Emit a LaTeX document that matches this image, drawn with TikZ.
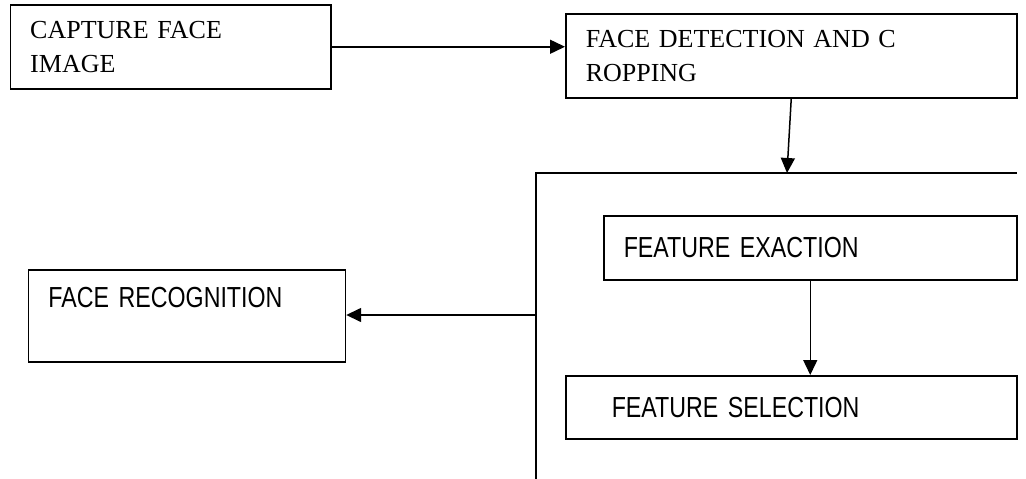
\documentclass[tikz,border=0pt]{standalone}
\usepackage{fontspec}
\setmainfont{Liberation Serif}
\newfontfamily\narrowsf[FakeStretch=0.8]{Liberation Sans}
\usetikzlibrary{arrows.meta}
\begin{document}
\begin{tikzpicture}[x=1pt,y=-1pt,
        blk/.style={rectangle,draw=black,line width=1.5pt,anchor=north west,
          inner xsep=20pt,inner ysep=0pt,align=left},
        serifbox/.style={blk,font=\fontsize{26}{34}\selectfont},
        sansbox/.style={blk,font=\narrowsf\fontsize{29}{34}\selectfont},
        arr/.style={-{Triangle[length=15pt,width=14pt]},line width=1.5pt}]
      \useasboundingbox (0,0) rectangle (1026,479);
      \node (capture) at (9.5,4) [serifbox,text width=280.5pt,minimum height=84pt] {CAPTURE FACE\\IMAGE};
      \node (detect) at (565,13) [serifbox,text width=411pt,minimum height=84pt] {FACE DETECTION AND C\\ROPPING};
      \node (exact) at (603,215) [sansbox,text width=373pt,minimum height=64pt] {FEATURE EXACTION};
      \node (select) at (565,375) [sansbox,text width=411pt,minimum height=63pt] {\hspace*{26pt}FEATURE SELECTION};
      \node (recog) at (27.7,269) [sansbox,text width=277pt,minimum height=92pt,text depth=37pt] {FACE RECOGNITION};
      % open frame round the feature steps
      \coordinate (fcorner) at (536,173);
      \coordinate (fdrop) at (787,173);
      \coordinate (fout) at (536,315);
      \draw[line width=1.5pt] (536,479) -- (fcorner) -- (1017,173);
      \draw[arr] (capture.east) -- (capture.east -| detect.west);
      \draw[arr] (detect.south) -- (fdrop);
      \draw[arr] (exact.south) -- (exact.south |- select.north);
      \draw[arr] (fout) -- (fout -| recog.east);
\end{tikzpicture}
\end{document}
